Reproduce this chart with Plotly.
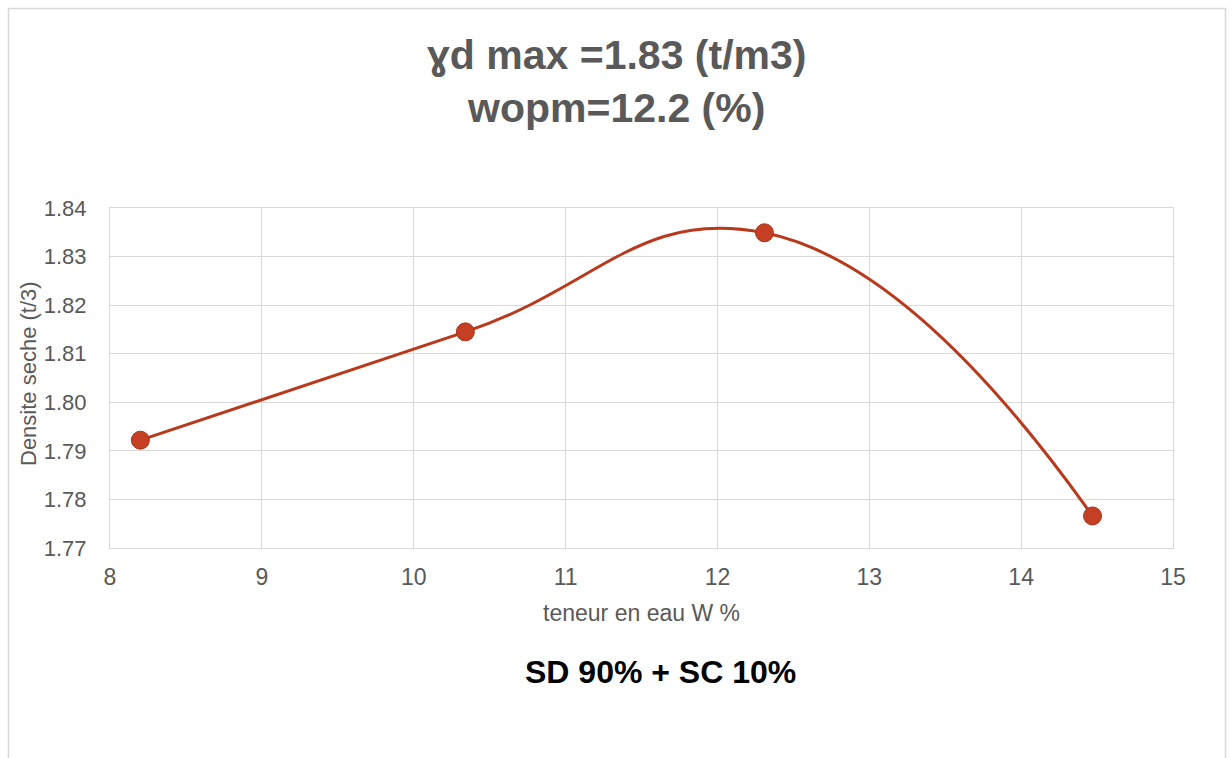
import plotly.graph_objects as go

# Data
water_content = [8.20, 10.34, 12.31, 14.47]
dry_density = [1.7922, 1.8145, 1.8349, 1.7766]

title_line1 = "ɣd max =1.83 (t/m3)"
title_line2 = "wopm=12.2 (%)"
subtitle = "SD 90% + SC 10%"
x_title = "teneur en eau W %"
y_title = "Densite seche (t/3)"

W, H = 1232, 758
L, R, T, B = 110, 1173, 208, 548  # plot area in pixels


def px(xp):
    return (xp - L) / (R - L)


def py(yp):
    return (B - yp) / (B - T)


fig = go.Figure()
fig.add_trace(go.Scatter(
    x=water_content, y=dry_density,
    mode="lines+markers",
    line=dict(color="#B8391B", width=3, shape="spline", smoothing=1.3),
    marker=dict(size=18, color="#C43F23", line=dict(color="#A8331A", width=1)),
    hoverinfo="x+y",
    showlegend=False,
))

grid = "#d9d9d9"
font_family = "Liberation Sans, Arial, sans-serif"

fig.update_layout(
    width=W, height=H,
    margin=dict(l=L, r=W - R, t=T, b=H - B),
    paper_bgcolor="white", plot_bgcolor="white",
    font=dict(family=font_family, color="#595959"),
    xaxis=dict(
        range=[8, 15], dtick=1, tick0=8,
        showgrid=True, gridcolor=grid, gridwidth=1,
        showline=True, linecolor=grid, linewidth=1, mirror=True,
        zeroline=False, ticks="", ticklabelstandoff=8,
        tickfont=dict(size=23, color="#595959"),
        title=dict(text=x_title, font=dict(size=23, color="#595959"), standoff=16),
    ),
    yaxis=dict(
        range=[1.77, 1.84], dtick=0.01, tick0=1.77, tickformat=".2f",
        showgrid=True, gridcolor=grid, gridwidth=1,
        showline=True, linecolor=grid, linewidth=1, mirror=True,
        zeroline=False, ticks="", ticklabelstandoff=18,
        tickfont=dict(size=22, color="#595959"),
    ),
    annotations=[
        dict(text=f"<b>{title_line1}<br>{title_line2}</b>", xref="paper", yref="paper",
             x=px(616), y=py(81), xanchor="center", yanchor="middle",
             showarrow=False, align="center", font=dict(size=41, color="#595959")),
        dict(text=f"<b>{subtitle}</b>", xref="paper", yref="paper",
             x=px(660), y=py(672), xanchor="center", yanchor="middle",
             showarrow=False, font=dict(size=32, color="black")),
        dict(text=y_title, xref="paper", yref="paper",
             x=px(28), y=py(374), xanchor="center", yanchor="middle",
             textangle=-90, showarrow=False, font=dict(size=22, color="#595959")),
    ],
    shapes=[
        dict(type="rect", xref="paper", yref="paper",
             x0=px(8.5), x1=px(1225.5), y0=py(790), y1=py(8.5),
             line=dict(color=grid, width=1.5), fillcolor="rgba(0,0,0,0)", layer="below"),
    ],
)

fig.write_html("out.html")
